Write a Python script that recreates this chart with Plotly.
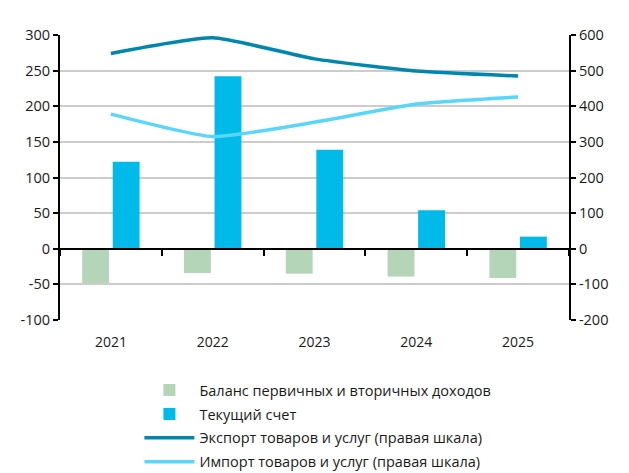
import plotly.graph_objects as go

years = ["2021", "2022", "2023", "2024", "2025"]
balance_income = [-48, -34, -35, -39, -41]
current_account = [122, 242, 139, 54, 17]
exports = [548, 592, 533, 499, 485]
imports = [378, 315, 355, 406, 426]

left_ticks = [-100, -50, 0, 50, 100, 150, 200, 250, 300]
left_labels = ["-100", "-50", "0", "50", "100", "150", "200", "250", "300"]
right_ticks = [-200, -100, 0, 100, 200, 300, 400, 500, 600]
right_labels = ["-200", "-100", "0", "100", "200", "300", "400", "500", "600"]

names = [
    "Баланс первичных и вторичных доходов",
    "Текущий счет",
    "Экспорт товаров и услуг (правая шкала)",
    "Импорт товаров и услуг (правая шкала)",
]

FONT = "Open Sans"
fig = go.Figure()
fig.add_trace(go.Bar(x=years, y=balance_income, name=names[0], marker_color="#b5d5b8",
                     marker_line_width=0, xaxis="x", yaxis="y", legendgroup="a"))
fig.add_trace(go.Bar(x=years, y=current_account, name=names[1], marker_color="#00bbea",
                     marker_line_width=0, xaxis="x", yaxis="y", legendgroup="b"))
fig.add_trace(go.Scatter(x=years, y=exports, name=names[2], mode="lines",
                         line=dict(color="#0087ae", width=3.5, shape="spline", smoothing=0.5),
                         xaxis="x", yaxis="y2", legendgroup="c"))
fig.add_trace(go.Scatter(x=years, y=imports, name=names[3], mode="lines",
                         line=dict(color="#5ad6fb", width=3.5, shape="spline", smoothing=0.5),
                         xaxis="x", yaxis="y2", legendgroup="d"))
# invisible helper trace for the category axis drawn on the zero line
fig.add_trace(go.Scatter(x=years, y=[0] * len(years), mode="markers", marker_opacity=0,
                         showlegend=False, hoverinfo="skip", xaxis="x2", yaxis="y"))

# page body has an 8px default margin, so the figure is sized to fit the window
fig.update_layout(
    width=621, height=465,
    margin=dict(l=52, r=60, t=27, b=152.6, autoexpand=False),
    paper_bgcolor="white", plot_bgcolor="white",
    font=dict(family=FONT, size=14, color="#1a1a1a"),
    barmode="group", bargap=0.4, bargroupgap=0.12,
    showlegend=True,
    legend=dict(x=0.156, y=-0.19, xanchor="left", yanchor="top",
                font=dict(family=FONT, size=14.5, color="#1a1a1a"),
                itemwidth=50, tracegroupgap=2, traceorder="grouped",
                bgcolor="rgba(0,0,0,0)"),
    xaxis=dict(type="category", categoryorder="array", categoryarray=years,
               range=[-0.5, 4.5], showgrid=False, showline=False, ticks="",
               tickfont=dict(size=14), ticklabelstandoff=12, domain=[0, 1],
               automargin=False),
    xaxis2=dict(type="category", categoryorder="array", categoryarray=years,
                range=[-0.5, 4.5], overlaying="x", anchor="free", position=0.25,
                side="bottom", showgrid=False, showline=True, linecolor="black",
                linewidth=2, ticks="outside", tickson="boundaries", ticklen=6,
                tickwidth=2, tickcolor="black", showticklabels=False, automargin=False),
    yaxis=dict(range=[-100, 300], tickvals=left_ticks, ticktext=left_labels,
               showgrid=True, gridcolor="#cccccc",
               gridwidth=1.5, zeroline=False, showline=True, linecolor="black",
               linewidth=2, ticks="outside", ticklen=5, tickwidth=2,
               tickcolor="black", tickfont=dict(size=14.5), automargin=False),
    yaxis2=dict(range=[-200, 600], tickvals=right_ticks, ticktext=right_labels,
                overlaying="y", side="right",
                showgrid=False, zeroline=False, showline=True, linecolor="black",
                linewidth=2, ticks="outside", ticklen=5, tickwidth=2,
                tickcolor="black", tickfont=dict(size=14.5), automargin=False),
)

fig.write_html("out.html")
